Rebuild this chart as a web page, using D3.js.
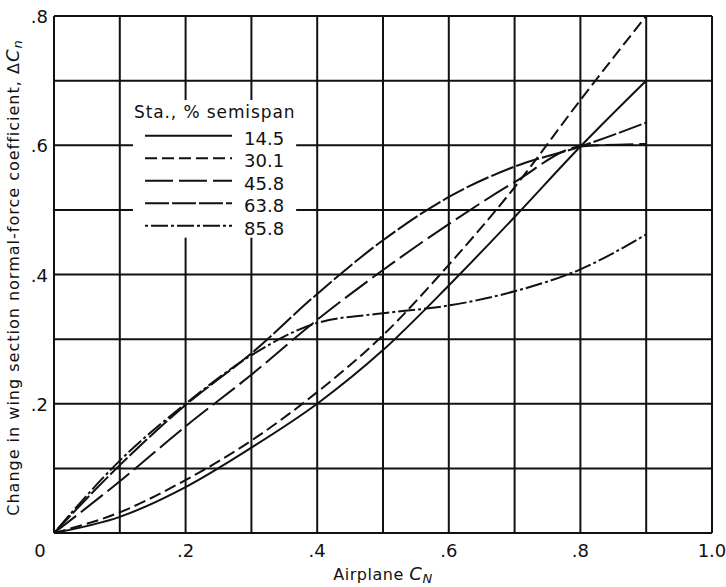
<!DOCTYPE html>
<html>
<head>
<meta charset="utf-8">
<script src="https://cdn.jsdelivr.net/npm/d3@7/dist/d3.min.js"></script>
<style>
  html, body { margin: 0; padding: 0; background: #fff; }
  svg { display: block; }
  text { font-family: "DejaVu Sans", sans-serif; fill: #111; }
</style>
</head>
<body>
<svg id="chart" width="726" height="587"></svg>
<script>
// Airplane normal-force coefficient (x) at which section values are read
const airplaneCN = [0, 0.1, 0.2, 0.3, 0.4, 0.5, 0.6, 0.7, 0.8, 0.9];

// Change in section normal-force coefficient at each spanwise station
const sta145 = [0, 0.025, 0.071, 0.132, 0.200, 0.283, 0.383, 0.489, 0.598, 0.700];
const sta301 = [0, 0.032, 0.082, 0.143, 0.218, 0.306, 0.415, 0.535, 0.670, 0.800];
const sta458 = [0, 0.080, 0.165, 0.245, 0.330, 0.407, 0.478, 0.543, 0.598, 0.602];
const sta638 = [0, 0.105, 0.198, 0.278, 0.370, 0.453, 0.520, 0.567, 0.598, 0.635];
const sta858 = [0, 0.112, 0.200, 0.275, 0.325, 0.340, 0.352, 0.374, 0.408, 0.462];

const stationLabels = ["14.5", "30.1", "45.8", "63.8", "85.8"];
const stationDash = ["none", "12,5", "28,6", "24,3", "3,3,17,3"];

const xTicks = [0, 0.2, 0.4, 0.6, 0.8, 1.0];
const xTickLabels = ["0", ".2", ".4", ".6", ".8", "1.0"];
const yTicks = [0.2, 0.4, 0.6, 0.8];
const yTickLabels = [".2", ".4", ".6", ".8"];

const svg = d3.select("#chart");
const margin = { left: 54, right: 14, top: 16, bottom: 54 };
const W = 726, H = 587;

const x = d3.scaleLinear().domain([0, 1.0]).range([margin.left, W - margin.right]);
const y = d3.scaleLinear().domain([0, 0.8]).range([H - margin.bottom, margin.top]);

// Grid at every 0.1
const gridX = d3.range(0, 1.0001, 0.1);
const gridY = d3.range(0, 0.8001, 0.1);

const grid = svg.append("g").attr("stroke", "#111").attr("stroke-width", 2);
grid.selectAll("line.v").data(gridX).join("line")
  .attr("x1", d => x(d)).attr("x2", d => x(d))
  .attr("y1", y(0)).attr("y2", y(0.8));
grid.selectAll("line.h").data(gridY).join("line")
  .attr("x1", x(0)).attr("x2", x(1.0))
  .attr("y1", d => y(d)).attr("y2", d => y(d));

// Station curves
const series = [sta145, sta301, sta458, sta638, sta858];
const line = d3.line()
  .x((d, i) => x(airplaneCN[i]))
  .y(d => y(d))
  .curve(d3.curveMonotoneX);

svg.append("g").selectAll("path").data(series).join("path")
  .attr("d", d => line(d))
  .attr("fill", "none")
  .attr("stroke", "#111")
  .attr("stroke-width", 2)
  .attr("stroke-dasharray", (d, i) => stationDash[i]);

// Legend panel sits over the grid
const lg = svg.append("g");
lg.append("rect")
  .attr("x", x(0.12)).attr("y", y(0.67))
  .attr("width", x(0.368) - x(0.12)).attr("height", y(0.457) - y(0.67))
  .attr("fill", "#fff");
lg.append("text")
  .attr("x", x(0.12) + 1).attr("y", y(0.642))
  .attr("font-size", 17)
  .attr("letter-spacing", 0.9)
  .text("Sta., % semispan");
stationLabels.forEach((lab, i) => {
  const yy = y(0.61) + i * 22.5;
  lg.append("line")
    .attr("x1", 145).attr("x2", 232)
    .attr("y1", yy - 3).attr("y2", yy - 3)
    .attr("stroke", "#111").attr("stroke-width", 2)
    .attr("stroke-dasharray", stationDash[i]);
  lg.append("text")
    .attr("x", 244).attr("y", yy + 6)
    .attr("font-size", 18)
    .text(lab);
});

// Tick labels
svg.append("g").selectAll("text").data(xTicks).join("text")
  .attr("x", (d, i) => i === 0 ? x(d) - 14 : x(d))
  .attr("y", y(0) + 24)
  .attr("text-anchor", "middle")
  .attr("font-size", 18)
  .text((d, i) => xTickLabels[i]);

svg.append("g").selectAll("text").data(yTicks).join("text")
  .attr("x", x(0) - 6)
  .attr("y", d => y(d) + 7)
  .attr("text-anchor", "end")
  .attr("font-size", 18)
  .text((d, i) => yTickLabels[i]);

// Axis titles
const xt = svg.append("text")
  .attr("x", 383).attr("y", 580)
  .attr("text-anchor", "middle")
  .attr("font-size", 16)
  .attr("letter-spacing", 0.5);
xt.append("tspan").text("Airplane ");
xt.append("tspan").attr("font-style", "italic").attr("font-size", 18).text("C");
xt.append("tspan").attr("font-style", "italic").attr("font-size", 13).attr("dy", 3).text("N");

const yt = svg.append("text")
  .attr("transform", `translate(19, ${(y(0) + y(0.8)) / 2 + 3}) rotate(-90)`)
  .attr("text-anchor", "middle")
  .attr("font-size", 16)
  .attr("letter-spacing", 1);
yt.append("tspan").text("Change in wing section normal-force coefficient, \u0394");
yt.append("tspan").attr("font-style", "italic").attr("font-size", 18).text("C");
yt.append("tspan").attr("font-style", "italic").attr("font-size", 13).attr("dy", 3).text("n");
</script>
</body>
</html>
